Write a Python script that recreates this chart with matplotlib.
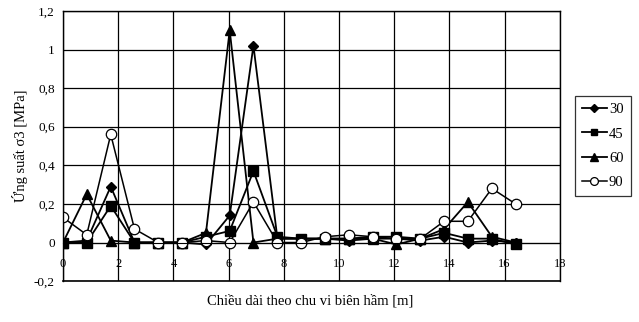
import numpy as np
import matplotlib
matplotlib.use("Agg")
from matplotlib import pyplot as plt

# distance along tunnel perimeter [m]
x_pos = [0, 0.86, 1.73, 2.59, 3.45, 4.32, 5.18, 6.04, 6.9, 7.77,
         8.63, 9.49, 10.36, 11.22, 12.08, 12.95, 13.81, 14.67, 15.54, 16.4]

s30 = [0, 0.01, 0.29, 0, 0, 0, -0.01, 0.14, 1.02, 0.02,
       0.02, 0.02, 0.01, 0.02, 0.02, 0.01, 0.03, 0.0, 0.01, 0.0]
s45 = [0, 0, 0.19, 0, 0, 0, 0.03, 0.06, 0.37, 0.03,
       0.02, 0.02, 0.02, 0.03, 0.03, 0.02, 0.05, 0.02, 0.02, -0.01]
s60 = [0, 0.25, 0.01, 0, 0, 0, 0.05, 1.1, 0.0, 0.02,
       0.02, 0.02, 0.02, 0.02, -0.01, 0.02, 0.07, 0.21, 0.03, 0.0]
s90 = [0.13, 0.04, 0.56, 0.07, 0, 0, 0.01, 0.0, 0.21, 0.0,
       0.0, 0.03, 0.04, 0.03, 0.02, 0.02, 0.11, 0.11, 0.28, 0.2]

series_labels = ["30", "45", "60", "90"]

x_ticks = [0, 2, 4, 6, 8, 10, 12, 14, 16, 18]
y_ticks = [-0.2, 0, 0.2, 0.4, 0.6, 0.8, 1.0, 1.2]
y_ticklabels = ["-0,2", "0", "0,2", "0,4", "0,6", "0,8", "1", "1,2"]

plt.rcParams['font.family'] = ['Liberation Serif', 'DejaVu Serif']

fig = plt.figure(figsize=(6.39, 3.22), dpi=100)
ax = fig.add_axes([0.0986, 0.127, 0.7774, 0.839])

ax.plot(x_pos, s30, '-D', color='black', lw=1.3, ms=5.5, label=series_labels[0])
ax.plot(x_pos, s45, '-s', color='black', lw=1.3, ms=6.5, label=series_labels[1])
ax.plot(x_pos, s60, '-^', color='black', lw=1.3, ms=7, label=series_labels[2])
ax.plot(x_pos, s90, '-o', color='black', lw=1.1, ms=7.5, mfc='white',
        mew=0.9, label=series_labels[3])

ax.set_xlim(0, 18)
ax.set_ylim(-0.2, 1.2)
ax.set_xticks(x_ticks)
ax.set_yticks(y_ticks)
ax.set_yticklabels(y_ticklabels)
ax.grid(True, color='black', lw=0.9)
ax.set_axisbelow(True)

# category axis crosses at 0 like the spreadsheet original
ax.spines['bottom'].set_position(('data', 0))
ax.axhline(-0.2, color='black', lw=1.2, clip_on=False)
for s in ['left', 'right', 'top']:
    ax.spines[s].set_linewidth(1.0)
ax.tick_params(axis='x', length=0, pad=11, labelsize=9)
ax.tick_params(axis='y', length=0, pad=6, labelsize=9.5)

ax.set_ylabel("Ứng suất σ3 [MPa]", fontsize=10.5, labelpad=4)
fig.text(0.485, 0.065, "Chiều dài theo chu vi biên hầm [m]", fontsize=10.5,
         ha='center', va='center')

leg = ax.legend(loc='center left', bbox_to_anchor=(1.03, 0.5), frameon=True,
                fancybox=False, edgecolor='black', fontsize=10.5,
                handlelength=1.7, handletextpad=0.15, borderpad=0.5,
                borderaxespad=0, labelspacing=0.75, markerscale=0.75)
leg.get_frame().set_linewidth(0.9)

plt.savefig("out.png", dpi=100)
